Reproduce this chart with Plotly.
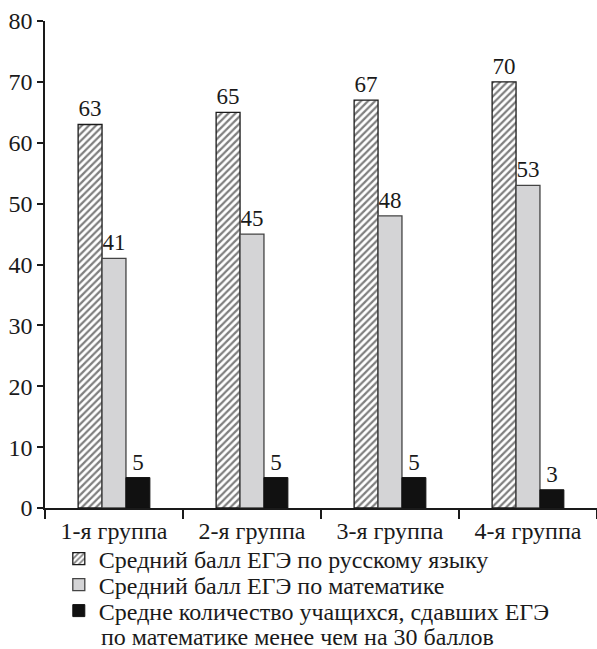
import plotly.graph_objects as go

groups = ["1-я группа", "2-я группа", "3-я группа", "4-я группа"]
russian = [63, 65, 67, 70]
math = [41, 45, 48, 53]
below30 = [5, 5, 5, 3]

names = [
    "Средний балл ЕГЭ по русскому языку",
    "Средний балл ЕГЭ по математике",
    "Средне количество учащихся, сдавших ЕГЭ",
]
name_tail = "по математике менее чем на 30 баллов"

FONT = "Liberation Serif"
INK = "#1a1a1a"
FS = 24

fig = go.Figure()
fig.add_trace(go.Bar(
    x=groups, y=russian, name=names[0], legend="legend",
    text=[str(v) for v in russian], textposition="outside",
    marker=dict(color="white", line=dict(color=INK, width=1.3),
                pattern=dict(shape="/", fgcolor="#000000", bgcolor="white", size=5, solidity=0.45)),
))
fig.add_trace(go.Bar(
    x=groups, y=math, name=names[1], legend="legend2",
    text=[str(v) for v in math], textposition="outside",
    marker=dict(color="#d4d4d6", line=dict(color="#444444", width=1.3)),
))
fig.add_trace(go.Bar(
    x=groups, y=below30, name=names[2], legend="legend3",
    text=[str(v) for v in below30], textposition="outside",
    marker=dict(color="#111111", line=dict(color="#111111", width=1)),
))

fig.update_traces(textfont=dict(family=FONT, size=FS - 1, color=INK), cliponaxis=False)

legend_style = dict(
    orientation="v", x=0.025, xanchor="left", yref="container", yanchor="middle",
    font=dict(family=FONT, size=FS, color=INK),
    itemwidth=30, bgcolor="rgba(0,0,0,0)", borderwidth=0,
)

fig.update_layout(
    width=597, height=649,
    margin=dict(l=45, r=0, t=21, b=141, autoexpand=False),
    paper_bgcolor="white", plot_bgcolor="white",
    font=dict(family=FONT, size=FS, color=INK),
    barmode="group", bargap=0.48, bargroupgap=0,
    showlegend=True,
    legend=dict(legend_style, y=1 - 559 / 649),
    legend2=dict(legend_style, y=1 - 585 / 649),
    legend3=dict(legend_style, y=1 - 611 / 649),
)

# second line of the third legend entry
fig.add_annotation(
    text=name_tail, xref="paper", yref="paper",
    x=(99 - 45) / 552, y=(508 - 637) / 487, xanchor="left", yanchor="middle",
    showarrow=False, font=dict(family=FONT, size=FS, color=INK),
)

fig.update_xaxes(
    showline=True, linecolor=INK, linewidth=1.5,
    ticks="outside", tickson="boundaries", ticklen=9, tickcolor=INK, tickwidth=1.5,
    showgrid=False, tickfont=dict(family=FONT, size=FS, color=INK),
)
fig.update_yaxes(
    range=[0, 80], dtick=10, showline=True, linecolor=INK, linewidth=1.5,
    ticks="outside", ticklen=6, tickcolor=INK, tickwidth=1.5,
    showgrid=False, zeroline=False, tickfont=dict(family=FONT, size=FS, color=INK),
)

fig.write_html("out.html")
